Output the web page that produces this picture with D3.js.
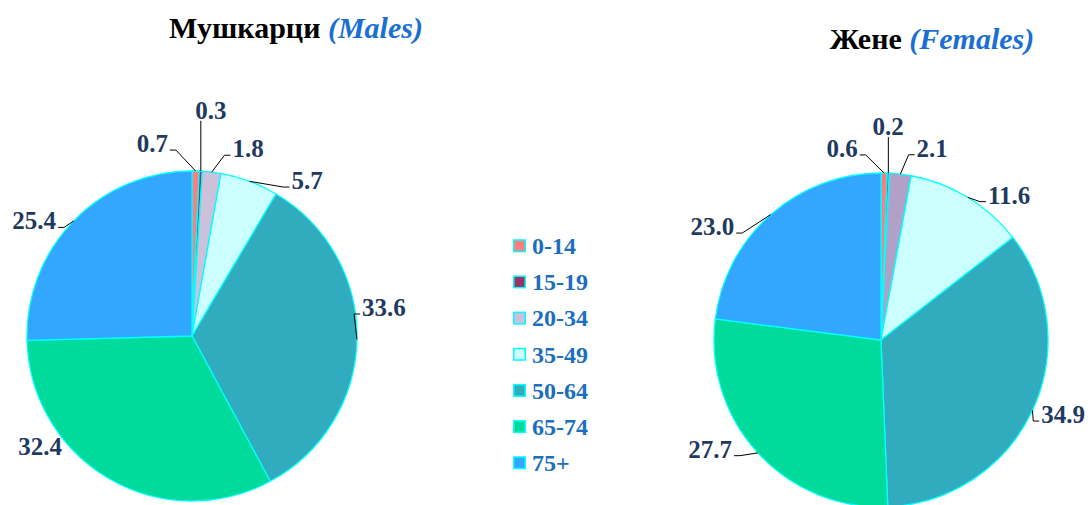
<!DOCTYPE html>
<html>
<head>
<meta charset="utf-8">
<script src="https://cdn.jsdelivr.net/npm/d3@7"></script>
<style>
  body { margin: 0; background: #fff; }
</style>
</head>
<body>
<svg id="chart" width="1088" height="505"></svg>
<script>
// data
const ageGroups = ["0-14", "15-19", "20-34", "35-49", "50-64", "65-74", "75+"]
const maleShares = [0.7, 0.3, 1.8, 5.7, 33.6, 32.4, 25.4]
const femaleShares = [0.6, 0.2, 2.1, 11.6, 34.9, 27.7, 23.0]
const maleLabels = ["0.7", "0.3", "1.8", "5.7", "33.6", "32.4", "25.4"]
const femaleLabels = ["0.6", "0.2", "2.1", "11.6", "34.9", "27.7", "23.0"]

const colors = ["#ff7c80", "#993366", "#ccc0da", "#ccffff", "#31acbf", "#00da9a", "#33a6ff"]
const femaleColors = ["#ff7c80", "#993366", "#b1a0c7", "#ccffff", "#31acbf", "#00da9a", "#33a6ff"]

// label layout: [angle in degrees, distance from centre, draw leader]
const maleLabelLayout = [[-11.7, 196, 1], [4.8, 226, 1], [16.7, 195, 1], [36.6, 193, 1], [81.7, 194, 1], [233.9, 188, 0], [306, 195, 1]]
const femaleLabelLayout = [[-11.5, 195, 1], [1.9, 213, 1], [15, 198, 1], [41.6, 193, 1], [112.4, 197, 1], [237.3, 203, 1], [303.8, 203, 1]]

const svg = d3.select("#chart")
const serif = '"Liberation Serif"'

function polar(cx, cy, r, a) {
  return [cx + r * Math.sin(a), cy - r * Math.cos(a)]
}

function drawPie(values, labels, layout, fills, cx, cy, r) {
  let pie = d3.pie().sort(null).value(d => d)
  let arcs = pie(values)
  let arc = d3.arc().innerRadius(0).outerRadius(r)

  let g = svg.append("g").attr("transform", `translate(${cx},${cy})`)
  g.selectAll("path")
    .data(arcs)
    .enter()
    .append("path")
    .attr("d", arc)
    .attr("fill", (d, i) => fills[i])
    .attr("stroke", "#00ffff")
    .attr("stroke-width", 1.3)

  let lab = svg.append("g")
  arcs.forEach((d, i) => {
    let mid = (d.startAngle + d.endAngle) / 2
    let [ax, ay] = polar(cx, cy, r, mid)
    let [tx, ty] = polar(cx, cy, layout[i][1], layout[i][0] * Math.PI / 180)

    let t = lab.append("text")
      .attr("x", tx)
      .attr("y", ty + 8)
      .attr("text-anchor", "middle")
      .style("font-family", serif)
      .style("font-size", "25px")
      .style("font-weight", "bold")
      .attr("fill", "#1f3a5f")
      .text(labels[i])

    if (!layout[i][2]) return
    let w = t.node().getComputedTextLength()
    let pts
    if (Math.abs(tx - ax) < 15 && ty < ay) {
      pts = [[ax, ay], [ax, ty + 10]]
    } else {
      let side = tx > ax ? -1 : 1
      let ex = tx + side * (w / 2 + 2)
      let ey = ty + 6
      pts = [[ax, ay], [ex + side * 6, ey], [ex, ey]]
    }
    lab.append("path")
      .attr("d", d3.line()(pts))
      .attr("fill", "none")
      .attr("stroke", "#000")
      .attr("stroke-width", 1)
  })
}

drawPie(maleShares, maleLabels, maleLabelLayout, colors, 192, 336, 165)
drawPie(femaleShares, femaleLabels, femaleLabelLayout, femaleColors, 881, 340, 167)

// titles
function title(x, y, main, sub) {
  let t = svg.append("text")
    .attr("x", x)
    .attr("y", y)
    .attr("text-anchor", "middle")
    .style("font-family", serif)
    .style("font-size", "30px")
    .style("font-weight", "bold")
  t.append("tspan").attr("fill", "#000").text(main + " ")
  t.append("tspan").attr("fill", "#1a6fd4").style("font-style", "italic").text(sub)
}
title(296, 38, "Мушкарци", "(Males)")
title(932, 49, "Жене", "(Females)")

// legend
let legendY = d3.scalePoint().domain(ageGroups).range([246, 463])
let legend = svg.append("g")
  .selectAll("g")
  .data(ageGroups)
  .enter()
  .append("g")
  .attr("transform", d => `translate(513,${legendY(d)})`)

legend.append("rect")
  .attr("x", 0.75)
  .attr("y", -6)
  .attr("width", 11.5)
  .attr("height", 11.5)
  .attr("fill", (d, i) => colors[i])
  .attr("stroke", "#00ffff")
  .attr("stroke-width", 1.5)

legend.append("text")
  .attr("x", 19)
  .attr("y", 8)
  .style("font-family", serif)
  .style("font-size", "24px")
  .style("font-weight", "bold")
  .attr("fill", "#1b6fbd")
  .text(d => d)
</script>
</body>
</html>
